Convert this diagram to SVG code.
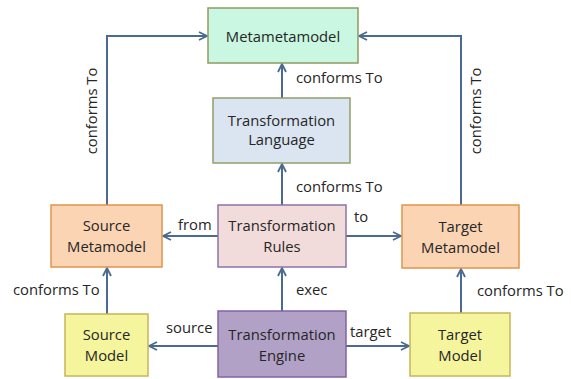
<svg xmlns="http://www.w3.org/2000/svg" width="571" height="379" viewBox="0 0 571 379">
<defs>
<marker id="arr" viewBox="0 0 10 10" refX="9" refY="5" markerWidth="10" markerHeight="10" markerUnits="userSpaceOnUse" orient="auto">
<path d="M1,1 L9,5 L1,9" fill="none" stroke="#4a6a8f" stroke-width="1.8"/>
</marker>
</defs>
<style>
text{font-family:"Open Sans","Liberation Sans",sans-serif;font-size:14.8px;fill:#262626}
.c{text-anchor:middle}
.e{fill:none;stroke:#4a6a8f;stroke-width:2;marker-end:url(#arr)}
rect{stroke-width:1.5}
</style>
<rect width="571" height="379" fill="#ffffff"/>
<g id="connectors">
<path class="e" d="M282,98 V64"/>
<path class="e" d="M282,205 V164"/>
<path class="e" d="M282,311 V268"/>
<path class="e" d="M218,236 H163"/>
<path class="e" d="M346,236 H401"/>
<path class="e" d="M218,346 H149"/>
<path class="e" d="M346,346 H409"/>
<path class="e" d="M107,314 V268"/>
<path class="e" d="M461,313 V269"/>
<path class="e" d="M107,205 V36 H207"/>
<path class="e" d="M461,205 V36 H359"/>
<text x="296" y="83">conforms To</text>
<text x="296" y="192">conforms To</text>
<text x="296" y="295">exec</text>
<text x="178" y="230">from</text>
<text x="354" y="222">to</text>
<text x="166" y="333">source</text>
<text x="350" y="337">target</text>
<text x="13" y="295">conforms To</text>
<text x="477" y="296">conforms To</text>
<text class="c" transform="translate(97,111) rotate(-90)">conforms To</text>
<text class="c" transform="translate(481,111) rotate(-90)">conforms To</text>
</g>
<g id="metametamodel">
<rect x="208" y="8" width="150" height="55" fill="#c9f7e1" stroke="#8e9c5e"/>
<text class="c" x="283" y="42">Metametamodel</text>
</g>
<g id="transformation-language">
<rect x="213" y="98" width="137" height="65" fill="#dbe5f1" stroke="#8ea06a"/>
<text class="c" x="281.5" y="126">Transformation</text>
<text class="c" x="281.5" y="145">Language</text>
</g>
<g id="source-metamodel">
<rect x="51" y="205" width="111" height="62" fill="#fbd4b4" stroke="#e0954c"/>
<text class="c" x="106.5" y="231">Source</text>
<text class="c" x="106.5" y="252">Metamodel</text>
</g>
<g id="transformation-rules">
<rect x="218" y="205" width="128" height="62" fill="#f2dcdb" stroke="#8c73a6"/>
<text class="c" x="282" y="231">Transformation</text>
<text class="c" x="282" y="252">Rules</text>
</g>
<g id="target-metamodel">
<rect x="402" y="205" width="117" height="63" fill="#fbd4b4" stroke="#e0954c"/>
<text class="c" x="460.5" y="232">Target</text>
<text class="c" x="460.5" y="253">Metamodel</text>
</g>
<g id="source-model">
<rect x="65" y="314" width="83" height="62" fill="#f4f59c" stroke="#c8b45c"/>
<text class="c" x="106.5" y="340">Source</text>
<text class="c" x="106.5" y="361">Model</text>
</g>
<g id="transformation-engine">
<rect x="218" y="311" width="128" height="66" fill="#b2a1c7" stroke="#8064a2"/>
<text class="c" x="282" y="340">Transformation</text>
<text class="c" x="282" y="361">Engine</text>
</g>
<g id="target-model">
<rect x="410" y="313" width="100" height="63" fill="#f4f59c" stroke="#c8b45c"/>
<text class="c" x="460" y="340">Target</text>
<text class="c" x="460" y="361">Model</text>
</g>
</svg>
